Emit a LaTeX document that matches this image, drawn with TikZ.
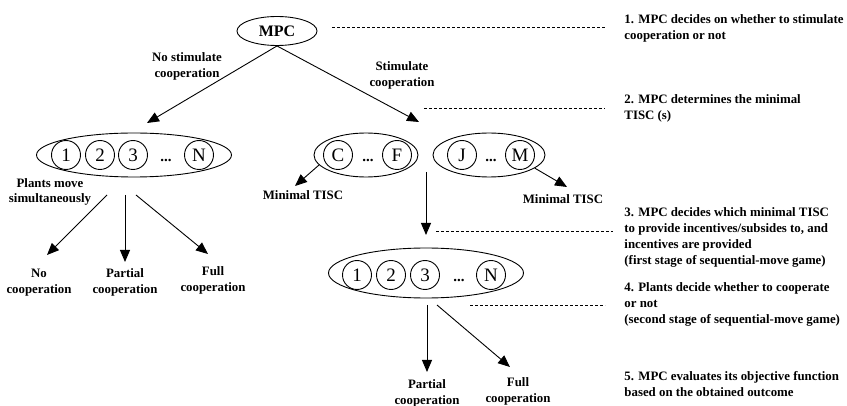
\documentclass[tikz,border=0pt]{standalone}
\usepackage{fontspec}
\setmainfont{Liberation Serif}
\usetikzlibrary{arrows.meta,shapes.geometric}

\tikzset{
  lbl/.style={font=\fontsize{12.85}{16}\selectfont\bfseries, align=center, inner sep=0pt},
  steptext/.style={font=\fontsize{12.85}{16}\selectfont\bfseries, align=left, anchor=west, inner sep=0pt},
  grp/.style={draw, ellipse, inner sep=0pt, minimum height=44pt},
  plant/.style={draw, circle, inner sep=0pt, minimum size=29pt, font=\fontsize{19}{19}\selectfont},
  ellip/.style={inner sep=0pt, anchor=base, font=\fontsize{15}{15}\selectfont\bfseries},
  arr/.style={-{Triangle[length=12pt,width=10pt]}, line width=0.9pt},
  guide/.style={dash pattern=on 3pt off 2pt, line width=0.7pt},
}

\begin{document}
\begin{tikzpicture}[x=1pt,y=-1pt,line width=0.9pt]
\useasboundingbox (0,0) rectangle (847,406);

% root decision maker
\node[draw, ellipse, inner sep=0pt, minimum width=80pt, minimum height=29pt,
      font=\fontsize{16}{16}\selectfont\bfseries] (mpc) at (277,31) {MPC};

% plants moving simultaneously (no stimulation)
\node[grp, minimum width=195pt] (gL) at (134,155) {};
\node[plant] (L1) at (66,155) {1};
\node[plant] (L2) at (100,155) {2};
\node[plant] (L3) at (133,155) {3};
\node[ellip] (Ld) at (166,162) {...};
\node[plant] (LN) at (199,155) {N};

% minimal TISC groups
\node[grp, minimum width=104pt] (gC) at (366,155) {};
\node[plant] (C1) at (338,155) {C};
\node[ellip] (Cd) at (368,162) {...};
\node[plant] (C2) at (397,155) {F};

\node[grp, minimum width=112pt] (gJ) at (489,155) {};
\node[plant] (J1) at (462,155) {J};
\node[ellip] (Jd) at (491,162) {...};
\node[plant] (J2) at (520,155) {M};

% plants in the sequential-move game
\node[grp, minimum width=195pt, minimum height=50pt] (gB) at (426,273) {};
\node[plant] (B1) at (357,275) {1};
\node[plant] (B2) at (391,275) {2};
\node[plant] (B3) at (425,275) {3};
\node[ellip] (Bd) at (459,282) {...};
\node[plant] (BN) at (491,275) {N};

% branch labels
\node[lbl] (nostim) at (187,66) {No stimulate\\cooperation};
\node[lbl] (stim) at (402,75) {Stimulate\\cooperation};
\node[lbl] (minL) at (303,195) {Minimal TISC};
\node[lbl] (minR) at (563,199) {Minimal TISC};
\node[lbl, font=\fontsize{12.85}{15}\selectfont\bfseries] (plants) at (50,192) {Plants move\\simultaneously};
\node[lbl] (noco) at (39,283) {No\\cooperation};
\node[lbl] (partL) at (125,282) {Partial\\cooperation};
\node[lbl] (fullL) at (213,280) {Full\\cooperation};
\node[lbl] (partB) at (427,393.5) {Partial\\cooperation};
\node[lbl] (fullB) at (518,391) {Full\\cooperation};

% stage descriptions
\node[steptext] (s1) at (624,28) {1. MPC decides on whether to stimulate\\cooperation or not};
\node[steptext] (s2) at (624,108.5) {2. MPC determines the minimal\\TISC (s)};
\node[steptext] (s3) at (624,237) {3. MPC decides which minimal TISC\\to provide incentives/subsides to, and\\incentives are provided\\(first stage of sequential-move game)};
\node[steptext] (s4) at (624,304) {4. Plants decide whether to cooperate\\or not\\(second stage of sequential-move game)};
\node[steptext] (s5) at (624,384) {5. MPC evaluates its objective function\\based on the obtained outcome};

% arrow end points
\coordinate (aL) at (147,123);
\coordinate (aR) at (419,122);
\coordinate (cT) at (295,186);
\coordinate (jT) at (567,187);
\coordinate (vA) at (426,172);
\coordinate (vB) at (426,235);
\coordinate (pA) at (107,195);
\coordinate (pB) at (125,195);
\coordinate (pC) at (136,195);
\coordinate (tA) at (47,255);
\coordinate (tB) at (125,262);
\coordinate (tC) at (208,254);
\coordinate (qA) at (427,305);
\coordinate (qB) at (437,305);
\coordinate (uA) at (427,372);
\coordinate (uB) at (510,367);

% dashed guides towards the stage descriptions
\coordinate (d1a) at (332,27);  \coordinate (d1b) at (605,27);
\coordinate (d2a) at (424,108); \coordinate (d2b) at (605,108);
\coordinate (d3a) at (436,231); \coordinate (d3b) at (613,231);
\coordinate (d4a) at (470,305); \coordinate (d4b) at (605,305);

% connectors
\draw[arr] (mpc.south) -- (aL);
\draw[arr] (mpc.south) -- (aR);
\draw[arr] (gC.192) -- (cT);
\draw[arr] (gJ.344) -- (jT);
\draw[arr] (vA) -- (vB);
\draw[arr] (pA) -- (tA);
\draw[arr] (pB) -- (tB);
\draw[arr] (pC) -- (tC);
\draw[arr] (qA) -- (uA);
\draw[arr] (qB) -- (uB);

\draw[guide] (d1a) -- (d1b);
\draw[guide] (d2a) -- (d2b);
\draw[guide] (d3a) -- (d3b);
\draw[guide] (d4a) -- (d4b);
\end{tikzpicture}
\end{document}
